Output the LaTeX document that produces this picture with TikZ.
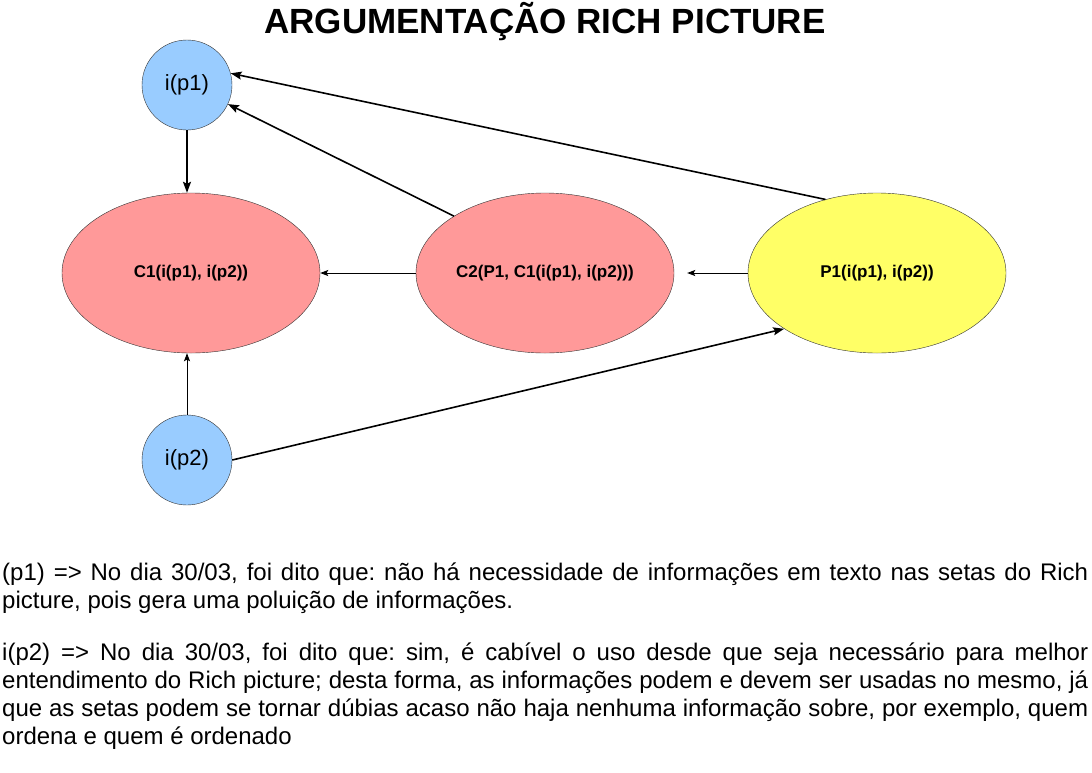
\documentclass[tikz,border=0pt]{standalone}
\usepackage{fontspec}
\setmainfont{Liberation Sans}
\usetikzlibrary{shapes.geometric, arrows.meta}

\definecolor{infoblue}{HTML}{99CCFF}
\definecolor{claimred}{HTML}{FF9999}
\definecolor{premyellow}{HTML}{FFFF66}

\begin{document}
\begin{tikzpicture}[x=1pt, y=-1pt,
        info/.style={circle, draw=black!80, fill=infoblue, minimum size=90pt, inner sep=0pt, font=\fontsize{22}{26}\selectfont},
        claim/.style={ellipse, draw=black!80, fill=claimred, minimum width=258pt, minimum height=160pt, inner sep=0pt, font=\bfseries\fontsize{17}{20}\selectfont},
        premise/.style={claim, fill=premyellow},
        strong/.style={-{Stealth[length=11pt, width=8pt, inset=2pt]}, line width=1.6pt},
        weak/.style={-{Stealth[length=8pt, width=6pt, inset=1.5pt]}, line width=0.9pt}]
        \useasboundingbox (0,0) rectangle (1092,772);

        % Title
        \node[anchor=base, font=\bfseries\fontsize{35}{40}\selectfont] (title) at (545,33) {ARGUMENTAÇÃO RICH PICTURE};

        % Rich picture
        \node[info] (ip1) at (187,85) {i(p1)};
        \node[info] (ip2) at (187,460) {i(p2)};
        \node[claim] (C1) at (191,273) {C1(i(p1), i(p2))};
        \node[claim] (C2) at (545,273) {C2(P1, C1(i(p1), i(p2)))};
        \node[premise] (P1) at (877,273) {P1(i(p1), i(p2))};

        % Arrows
        \draw[strong] (ip1.south) -- (ip1.south |- C1.north);
        \draw[strong] (C2.148) -- (ip1.335);
        \draw[strong] (P1.125) -- (ip1.15);
        \draw[weak] (C2.west) -- (C1.east);
        \draw[weak, shorten >=13pt] (P1.west) -- (C2.east);
        \draw[weak] (ip2.north) -- (ip2.north |- C1.south);
        \draw[strong] (ip2.east) -- (P1.211);

        % Notes
        \node[anchor=north west, inner sep=0pt, text width=1086pt, align=justify,
              font=\fontsize{24}{28}\selectfont] (notes) at (2,563) {\hyphenpenalty=10000\frenchspacing
            (p1) => No dia 30/03, foi dito que: não há necessidade de informações em texto nas setas do Rich\linebreak picture, pois gera uma poluição de informações.\par
            \vspace{24pt}
            i(p2) => No dia 30/03, foi dito que: sim, é cabível o uso desde que seja necessário para melhor\linebreak entendimento do Rich picture; desta forma, as informações podem e devem ser usadas no mesmo, já\linebreak que as setas podem se tornar dúbias acaso não haja nenhuma informação sobre, por exemplo, quem\linebreak ordena e quem é ordenado};
    \end{tikzpicture}
\end{document}
